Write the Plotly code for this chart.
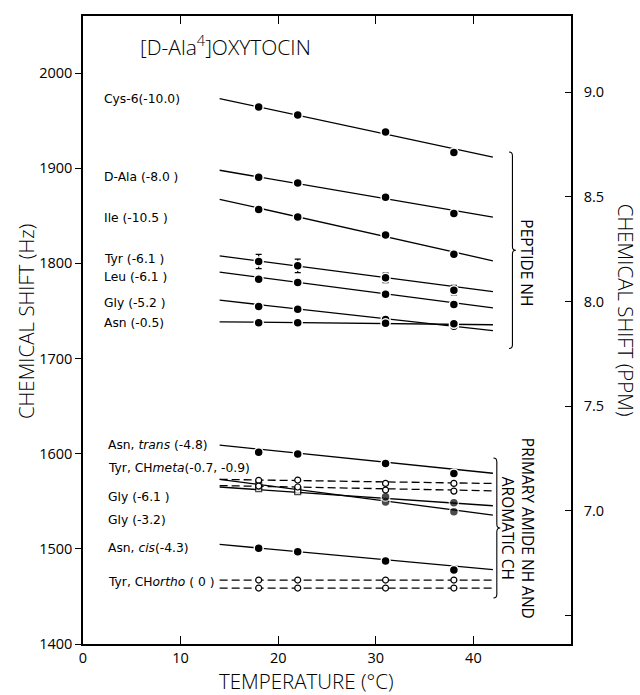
import plotly.graph_objects as go

# ---------------------------------------------------------------- data
TEMPS = [18, 22, 31, 38]        # measurement temperatures (°C)
FIT_T = [14, 42]                # span of the fitted lines (°C)
SPECTROMETER_MHZ = 220          # Hz per ppm

# Peptide NH resonances: shifts (Hz) at TEMPS, coefficient (ppb/°C),
# fitted-line value at 14 °C (Hz)
CYS6 = [1964.4, 1956.0, 1938.1, 1916.5]
DALA = [1890.5, 1884.6, 1869.5, 1852.4]
ILE = [1856.6, 1848.8, 1829.9, 1809.7]
TYR = [1802.0, 1797.4, 1784.8, 1771.8]
TYR_ERR = [7.5, 7.0, 5.0, 5.0]
LEU = [1783.4, 1779.9, 1767.6, 1756.8]
GLY = [1754.7, 1751.9, 1741.1, 1734.0]
ASN = [1737.5, 1737.5, 1737.0, 1736.5]

PEP_LABELS = ["Cys-6(-10.0)", "D-Ala (-8.0 )", "Ile (-10.5 )", "Tyr (-6.1 )",
              "Leu (-6.1 )", "Gly (-5.2 )", "Asn (-0.5)"]
PEP_COEF = [-10.0, -8.0, -10.5, -6.1, -6.1, -5.2, -0.5]
PEP_FIT14 = [1973.2, 1897.9, 1867.4, 1807.9, 1790.8, 1761.3, 1738.6]

# Primary amide NH and aromatic CH resonances
ASN_TRANS = [1601.4, 1599.6, 1589.8, 1579.3]
TYR_META_A = [1572.0, 1572.3, 1568.8, 1568.8]
TYR_META_B = [1566.0, 1565.0, 1561.8, 1560.7]
GLY_AMIDE_A = [1567.0, 1561.8, 1549.2, 1539.0]
GLY_AMIDE_B = [1563.3, 1560.2, 1554.7, 1548.4]
ASN_CIS = [1500.5, 1497.0, 1487.2, 1477.7]
TYR_ORTHO_A = [1467.2, 1467.2, 1467.2, 1467.2]
TYR_ORTHO_B = [1458.8, 1458.8, 1458.8, 1458.8]

AMIDE_LABELS = ["Asn, <i>trans</i> (-4.8)", "Tyr, CH<i>meta</i>(-0.7, -0.9)",
                "Gly (-6.1 )", "Gly (-3.2)", "Asn, <i>cis</i>(-4.3)",
                "Tyr, CH<i>ortho</i> ( 0 )"]
ASN_TRANS_COEF, ASN_TRANS_FIT14 = -4.8, 1609.0
TYR_META_COEF, TYR_META_FIT14 = [-0.7, -0.9], [1573.0, 1566.5]
GLY_AMIDE_COEF, GLY_AMIDE_FIT14 = [-6.1, -3.2], [1573.1, 1565.0]
ASN_CIS_COEF, ASN_CIS_FIT14 = -4.3, 1504.7
TYR_ORTHO_COEF, TYR_ORTHO_FIT14 = [0.0, 0.0], [1467.2, 1458.8]

# ---------------------------------------------------------------- helpers
TITLE_FONT = "Open Sans"
LABEL_FONT = "DejaVu Sans"
INK = "black"


def fit_line(start, coef):
    """Fitted line across FIT_T from its 14 °C value and slope in ppb/°C."""
    slope_hz = coef * 1e-3 * SPECTROMETER_MHZ
    return [start, start + slope_hz * (FIT_T[1] - FIT_T[0])]


fig = go.Figure()


def add_line(start, coef, dash="solid"):
    fig.add_trace(go.Scatter(
        x=FIT_T, y=fit_line(start, coef), mode="lines",
        line=dict(color=INK, width=1.3, dash=dash),
        showlegend=False, hoverinfo="skip"))


def add_points(values, kind="filled", err=None):
    if kind == "filled":
        marker = dict(symbol="circle", size=9, color=INK,
                      line=dict(color="white", width=1.5))
    elif kind == "open":
        marker = dict(symbol="circle", size=6, color="white",
                      line=dict(color=INK, width=1.2))
    else:  # open squares at the two low temperatures, filled circles above
        marker = dict(symbol=["square", "square", "circle", "circle"],
                      size=[6, 6, 9, 9],
                      color=["white", "white", INK, INK],
                      line=dict(color=[INK, INK, "white", "white"],
                                width=[1.2, 1.2, 1.5, 1.5]))
    kw = {}
    if err is not None:
        kw["error_y"] = dict(type="data", array=err, color=INK,
                             thickness=1.2, width=3)
    fig.add_trace(go.Scatter(x=TEMPS, y=values, mode="markers", marker=marker,
                             showlegend=False, hoverinfo="skip", **kw))


# fitted lines
for start, coef in zip(PEP_FIT14, PEP_COEF):
    add_line(start, coef)
add_line(ASN_TRANS_FIT14, ASN_TRANS_COEF)
for start, coef in zip(TYR_META_FIT14, TYR_META_COEF):
    add_line(start, coef, dash="8px,4px")
for start, coef in zip(GLY_AMIDE_FIT14, GLY_AMIDE_COEF):
    add_line(start, coef)
add_line(ASN_CIS_FIT14, ASN_CIS_COEF)
for start, coef in zip(TYR_ORTHO_FIT14, TYR_ORTHO_COEF):
    add_line(start, coef, dash="8px,4px")

# measured points
for vals in [CYS6, DALA, ILE, LEU, GLY, ASN]:
    add_points(vals)
add_points(TYR, err=TYR_ERR)
add_points(ASN_TRANS)
add_points(GLY_AMIDE_A, kind="mixed")
add_points(GLY_AMIDE_B, kind="mixed")
add_points(TYR_META_A, kind="open")
add_points(TYR_META_B, kind="open")
add_points(ASN_CIS)
add_points(TYR_ORTHO_A, kind="open")
add_points(TYR_ORTHO_B, kind="open")

# ppm scale on the right
fig.add_trace(go.Scatter(x=[None], y=[None], yaxis="y2", showlegend=False,
                         hoverinfo="skip"))

# ---------------------------------------------------------------- labels
PEP_LABEL_Y = [1972.5, 1890.9, 1848.2, 1805.1, 1785.2, 1757.9, 1736.9]
AMIDE_LABEL_Y = [1609.0, 1584.6, 1554.7, 1530.3, 1501.2, 1465.4]
label_font = dict(family=LABEL_FONT, size=12.3, color=INK)
annotations = []
for text, y in zip(PEP_LABELS, PEP_LABEL_Y):
    annotations.append(dict(x=1.95, y=y, xref="x", yref="y", text=text,
                            xanchor="left", yanchor="middle", showarrow=False,
                            font=label_font))
for text, y in zip(AMIDE_LABELS, AMIDE_LABEL_Y):
    annotations.append(dict(x=2.35, y=y, xref="x", yref="y", text=text,
                            xanchor="left", yanchor="middle", showarrow=False,
                            font=label_font))

axis_title_font = dict(family=TITLE_FONT, size=20.5, color=INK, weight=300)
group_font = dict(family=TITLE_FONT, size=15.5, color=INK)
annotations += [
    dict(x=5.6, y=2028.5, xref="x", yref="y", xanchor="left", yanchor="middle",
         text="[D-Ala<sup>4</sup>]OXYTOCIN", showarrow=False,
         font=dict(family=TITLE_FONT, size=21, color=INK, weight=300)),
    dict(x=-0.117, y=0.514, xref="paper", yref="paper", textangle=-90,
         xanchor="center", yanchor="middle",
         text="CHEMICAL SHIFT (Hz)", showarrow=False, font=axis_title_font),
    dict(x=1.113, y=0.532, xref="paper", yref="paper", textangle=90,
         xanchor="center", yanchor="middle",
         text="CHEMICAL SHIFT (PPM)", showarrow=False, font=axis_title_font),
    dict(x=0.457, y=-0.059, xref="paper", yref="paper",
         xanchor="center", yanchor="middle",
         text="TEMPERATURE (°C)", showarrow=False, font=axis_title_font),
    dict(x=45.4, y=1801, xref="x", yref="y", textangle=90,
         xanchor="center", yanchor="middle",
         text="PEPTIDE NH", showarrow=False, font=group_font),
    dict(x=44.6, y=1521.8, xref="x", yref="y", textangle=90,
         xanchor="center", yanchor="middle",
         text="PRIMARY AMIDE NH AND<br>AROMATIC CH", showarrow=False,
         font=group_font),
]


def brace(x, y_top, y_bot, d=0.35, h=4.0):
    """Right-pointing curly brace path in data coordinates."""
    ym = (y_top + y_bot) / 2
    return (f"M {x - d},{y_top} Q {x},{y_top} {x},{y_top - h} "
            f"L {x},{ym + h} Q {x},{ym} {x + d},{ym} "
            f"Q {x},{ym} {x},{ym - h} "
            f"L {x},{y_bot + h} Q {x},{y_bot} {x - d},{y_bot}")


shapes = [
    dict(type="path", xref="x", yref="y", path=brace(44.0, 1917.0, 1710.6),
         line=dict(color=INK, width=1.1)),
    dict(type="path", xref="x", yref="y", path=brace(42.4, 1595.4, 1448.3),
         line=dict(color=INK, width=1.1)),
]

# ---------------------------------------------------------------- layout
tick_font = dict(family=TITLE_FONT, size=14.5, color=INK)
fig.update_layout(
    width=640, height=695,
    margin=dict(l=83, r=69, t=16, b=51),
    paper_bgcolor="white", plot_bgcolor="white",
    showlegend=False,
    annotations=annotations,
    shapes=shapes,
    xaxis=dict(range=[0, 50], tickvals=[0, 10, 20, 30, 40],
               ticks="inside", ticklen=8, tickwidth=1.2, tickcolor=INK,
               showline=True, linecolor=INK, linewidth=1.5, mirror="ticks",
               showgrid=False, zeroline=False, tickfont=tick_font),
    yaxis=dict(range=[1400, 2060],
               tickvals=[1400, 1500, 1600, 1700, 1800, 1900, 2000],
               ticks="outside", ticklen=6, tickwidth=1.2, tickcolor=INK,
               showline=True, linecolor=INK, linewidth=1.5,
               showgrid=False, zeroline=False, tickfont=tick_font),
    yaxis2=dict(overlaying="y", side="right",
                range=[1400 / SPECTROMETER_MHZ, 2060 / SPECTROMETER_MHZ],
                tickvals=[7.0, 7.5, 8.0, 8.5, 9.0],
                ticktext=["7.0", "7.5", "8.0", "8.5", "9.0"],
                ticks="inside", ticklen=6, tickwidth=1.2, tickcolor=INK,
                minor=dict(tickvals=[6.5], ticks="inside", ticklen=6,
                           tickwidth=1.2, tickcolor=INK, showgrid=False),
                ticklabelstandoff=8,
                showline=True, linecolor=INK, linewidth=1.5,
                showgrid=False, zeroline=False, tickfont=tick_font),
)

fig.write_html("out.html")
